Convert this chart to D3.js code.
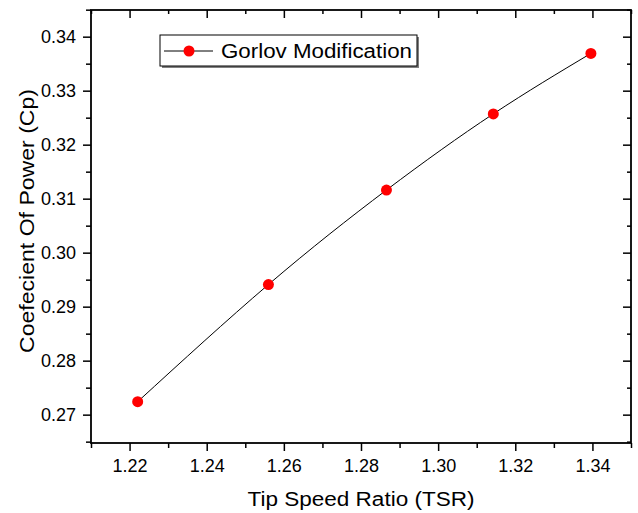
<!DOCTYPE html>
<html>
<head>
<meta charset="utf-8">
<script src="https://d3js.org/d3.v7.min.js"></script>
<style>
  body { margin: 0; background: #fff; }
  text { font-family: "Liberation Sans", Arial, sans-serif; fill: #000; }
</style>
</head>
<body>
<script>
  // data
  var tsr = [1.2221, 1.256, 1.2866, 1.3143, 1.3396];
  var cp = [0.2724, 0.2941, 0.3116, 0.3257, 0.3369];
  var xTicks = [1.22, 1.24, 1.26, 1.28, 1.30, 1.32, 1.34];
  var yTicks = [0.27, 0.28, 0.29, 0.30, 0.31, 0.32, 0.33, 0.34];
  var seriesName = "Gorlov Modification";

  var W = 638, H = 513;
  var plotL = 91, plotR = 631, plotT = 10, plotB = 443;

  var svg = d3.select("body").append("svg")
    .attr("width", W)
    .attr("height", H);

  var x = d3.scaleLinear().domain([1.21, 1.35]).range([plotL, plotR]);
  var y = d3.scaleLinear().domain([0.26475, 0.34494]).range([plotB, plotT]);

  var xMinor = d3.range(1.21, 1.3501, 0.02);
  var yMinor = d3.range(0.265, 0.3451, 0.01);

  // bottom axis (ticks outward)
  var gb = svg.append("g").attr("transform", "translate(0," + plotB + ")");
  gb.call(d3.axisBottom(x).tickValues(xTicks).tickFormat(d3.format(".2f")).tickSize(8).tickPadding(8));
  gb.append("g").call(d3.axisBottom(x).tickValues(xMinor).tickFormat("").tickSize(5));

  // left axis (ticks outward)
  var gl = svg.append("g").attr("transform", "translate(" + plotL + ",0)");
  gl.call(d3.axisLeft(y).tickValues(yTicks).tickFormat(d3.format(".2f")).tickSize(8).tickPadding(7));
  gl.append("g").call(d3.axisLeft(y).tickValues(yMinor).tickFormat("").tickSize(5));

  // top axis (ticks inward)
  var gt = svg.append("g").attr("transform", "translate(0," + plotT + ")");
  gt.call(d3.axisBottom(x).tickValues(xTicks).tickFormat("").tickSize(8));
  gt.append("g").call(d3.axisBottom(x).tickValues(xMinor).tickFormat("").tickSize(4));

  // right axis (ticks inward)
  var gr = svg.append("g").attr("transform", "translate(" + plotR + ",0)");
  gr.call(d3.axisLeft(y).tickValues(yTicks).tickFormat("").tickSize(8));
  gr.append("g").call(d3.axisLeft(y).tickValues(yMinor).tickFormat("").tickSize(4));

  svg.selectAll(".domain").remove();
  svg.selectAll(".tick line").attr("stroke", "#000").attr("stroke-width", 1.5);
  svg.selectAll(".tick text").style("font-size", "18px").attr("fill", "#000");

  // frame
  svg.append("rect")
    .attr("x", plotL).attr("y", plotT)
    .attr("width", plotR - plotL).attr("height", plotB - plotT)
    .attr("fill", "none").attr("stroke", "#000").attr("stroke-width", 1.8);

  // axis titles
  svg.append("text")
    .attr("x", (plotL + plotR) / 2).attr("y", 506)
    .attr("text-anchor", "middle")
    .attr("textLength", 227).attr("lengthAdjust", "spacingAndGlyphs")
    .style("font-size", "20px")
    .text("Tip Speed Ratio (TSR)");

  svg.append("text")
    .attr("transform", "translate(34,221) rotate(-90)")
    .attr("text-anchor", "middle")
    .attr("textLength", 264).attr("lengthAdjust", "spacingAndGlyphs")
    .style("font-size", "21px")
    .text("Coefecient Of Power (Cp)");

  // series
  var pts = tsr.map(function(d, i) { return [d, cp[i]]; });
  var line = d3.line()
    .x(function(d) { return x(d[0]); })
    .y(function(d) { return y(d[1]); })
    .curve(d3.curveNatural);

  svg.append("path")
    .datum(pts)
    .attr("d", line)
    .attr("fill", "none")
    .attr("stroke", "#000")
    .attr("stroke-width", 1);

  svg.selectAll("circle.pt")
    .data(pts)
    .enter()
    .append("circle")
    .attr("class", "pt")
    .attr("cx", function(d) { return x(d[0]); })
    .attr("cy", function(d) { return y(d[1]); })
    .attr("r", 5.5)
    .attr("fill", "#ff0000");

  // legend
  var lg = svg.append("g");
  lg.append("rect")
    .attr("x", 162).attr("y", 37).attr("width", 257).attr("height", 31)
    .attr("fill", "#7f7f7f");
  lg.append("rect")
    .attr("x", 160).attr("y", 35).attr("width", 257).attr("height", 31)
    .attr("fill", "#fff").attr("stroke", "#000").attr("stroke-width", 1);
  lg.append("line")
    .attr("x1", 164).attr("x2", 213).attr("y1", 51).attr("y2", 51)
    .attr("stroke", "#000").attr("stroke-width", 1);
  lg.append("circle")
    .attr("cx", 189).attr("cy", 51).attr("r", 5.5)
    .attr("fill", "#ff0000");
  lg.append("text")
    .attr("x", 221).attr("y", 58)
    .attr("textLength", 191).attr("lengthAdjust", "spacingAndGlyphs")
    .style("font-size", "20px")
    .text(seriesName);
</script>
</body>
</html>
